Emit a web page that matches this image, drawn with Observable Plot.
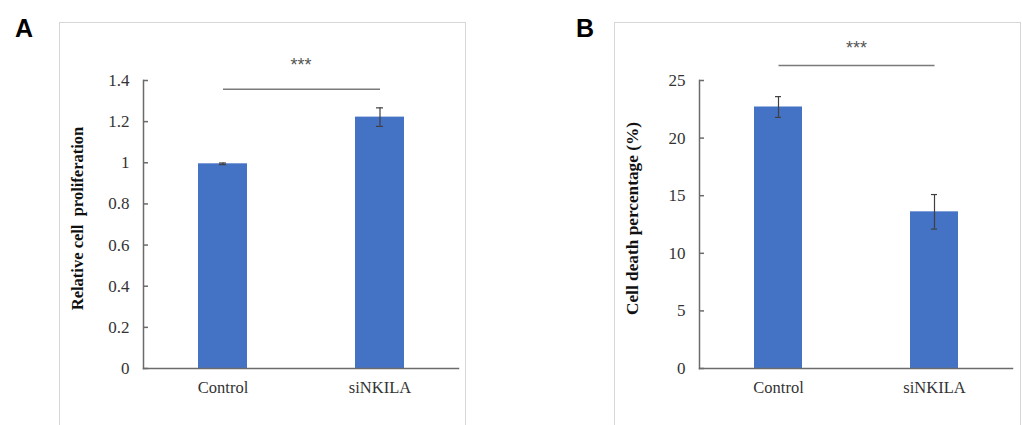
<!DOCTYPE html>
<html>
<head>
<meta charset="utf-8">
<script src="https://cdn.jsdelivr.net/npm/d3@7"></script>
<script src="https://cdn.jsdelivr.net/npm/@observablehq/plot@0.6"></script>
<style>
  html, body { margin: 0; padding: 0; background: #fff; }
  #page { position: relative; width: 1022px; height: 425px; overflow: hidden; background: #fff; }
  .panel { position: absolute; top: 22px; width: 407px; height: 430px; box-sizing: border-box;
           border: 1.5px solid #d6d6d6; overflow: hidden; }
  .letter { position: absolute; top: 16px; font-family: "Liberation Sans", Arial, sans-serif;
            font-weight: bold; font-size: 25px; line-height: 25px; color: #000; }
  svg { display: block; }
</style>
</head>
<body>
<div id="page">
  <div class="letter" style="left:15px;">A</div>
  <div class="letter" style="left:576px;">B</div>
  <div class="panel" id="panelA" style="left:59px;"></div>
  <div class="panel" id="panelB" style="left:614px;"></div>
</div>
<script>
// ---- data ----
const categories = ["Control", "siNKILA"];
const proliferation = [0.995, 1.222];
const proliferationErr = [0.004, 0.045];
const deathPct = [22.7, 13.6];
const deathErr = [0.9, 1.5];
const yTicksA = [0, 0.2, 0.4, 0.6, 0.8, 1, 1.2, 1.4];
const yTicksB = [0, 5, 10, 15, 20, 25];
const yTitleA = "Relative cell  proliferation";
const yTitleB = "Cell death percentage (%)";
const sigLabel = "***";
const sigLevelA = 1.357;
const sigStarsA = 1.49;
const sigLevelB = 26.3;
const sigStarsB = 28.05;

const barColor = "#4472C4";
const axisColor = "#6b6b6b";
const serif = "'Liberation Serif', 'Times New Roman', serif";

function makeChart(values, errs, ticks, ymax, title, titleSize, sigLevel, sigStars, ml, mr) {
  const rows = categories.map((c, i) => ({cat: c, v: values[i], lo: values[i] - errs[i], hi: values[i] + errs[i]}));
  return Plot.plot({
    width: 404,
    height: 403,
    marginLeft: ml,
    marginRight: mr,
    marginTop: 57,
    marginBottom: 58,
    style: {fontFamily: serif, background: "white", overflow: "visible"},
    x: {domain: categories, padding: 0, axis: null},
    y: {domain: [0, ymax], axis: null},
    marks: [
      Plot.barY(rows, {x: "cat", y: "v", fill: barColor, insetLeft: 54, insetRight: 54}),
      Plot.ruleX(rows, {x: "cat", y1: "lo", y2: "hi", stroke: "#404040", strokeWidth: 1.2}),
      Plot.tickY(rows, {x: "cat", y: "lo", stroke: "#404040", strokeWidth: 1.2, insetLeft: 75, insetRight: 75}),
      Plot.tickY(rows, {x: "cat", y: "hi", stroke: "#404040", strokeWidth: 1.2, insetLeft: 75, insetRight: 75}),
      Plot.frame({anchor: "left", stroke: axisColor, strokeWidth: 1.5}),
      Plot.frame({anchor: "bottom", stroke: axisColor, strokeWidth: 1.5}),
      Plot.axisY({ticks: ticks, tickSize: -5, tickPadding: 19, stroke: axisColor, strokeWidth: 1.5,
                  tickFormat: d => String(d), fontSize: 17, fill: "#333", label: null}),
      Plot.axisX({tickSize: 0, tickPadding: 13, fontSize: 16.5, fill: "#333", label: null}),
      Plot.text([title], {frameAnchor: "left", dx: -(ml - 17), dy: -6, rotate: -90, text: d => d,
                  textAnchor: "middle", fontSize: titleSize, fontWeight: "bold", fill: "#111"}),
      Plot.link([0], {x1: () => categories[0], x2: () => categories[1], y1: () => sigLevel, y2: () => sigLevel,
                  stroke: "#7a7a7a", strokeWidth: 1.5}),
      Plot.text([sigLabel], {x: () => categories[0], y: () => sigStars, text: d => d, dx: 78, dy: 3,
                  fontSize: 18, fontFamily: "'Liberation Sans', Arial, sans-serif", fill: "#555"})
    ]
  });
}

document.getElementById("panelA").appendChild(
  makeChart(proliferation, proliferationErr, yTicksA, 1.4, yTitleA, 16.5, sigLevelA, sigStarsA, 83, 6));
document.getElementById("panelB").appendChild(
  makeChart(deathPct, deathErr, yTicksB, 25, yTitleB, 17.3, sigLevelB, sigStarsB, 84, 7));
</script>
</body>
</html>
